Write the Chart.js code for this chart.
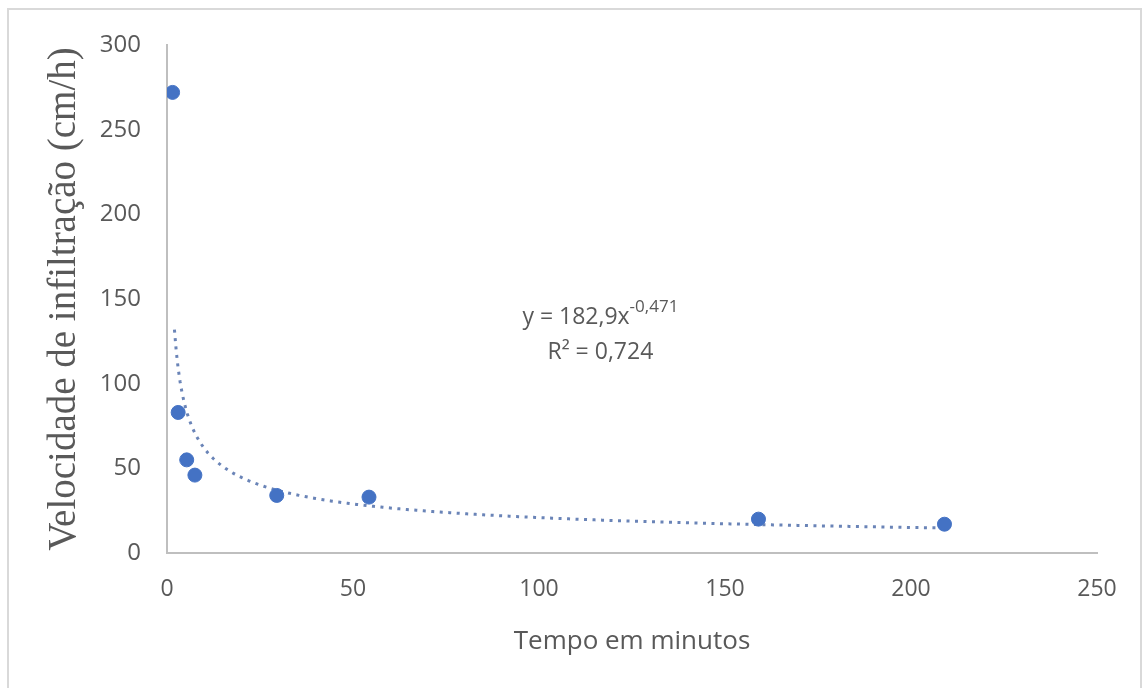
<!DOCTYPE html>
<html>
<head>
<meta charset="utf-8">
<script src="https://cdn.jsdelivr.net/npm/chart.js@4/dist/chart.umd.min.js"></script>
<style>
  html, body { margin: 0; padding: 0; background: #ffffff; overflow: hidden; }
  #wrap { position: relative; width: 1145px; height: 688px; }
  #frame { position: absolute; left: 7px; top: 8px; width: 1135px; height: 700px;
           border: 2px solid #d9d9d9; box-sizing: border-box; pointer-events: none; }
  canvas { position: absolute; left: 0; top: 0; }
</style>
</head>
<body>
<div id="wrap">
  <canvas id="chart" width="1145" height="688"></canvas>
  <div id="frame"></div>
</div>
<script>
// Measured infiltration: elapsed time (min) and infiltration rate (cm/h)
const tempoMin = [1.5, 3, 5.3, 7.5, 29.5, 54.3, 159, 209];
const velocidade = [272, 83, 55, 46, 34, 33, 20, 17];

// Power trendline y = a * x^b, as given by the fitted equation
const trendA = 182.9;
const trendB = -0.471;
const trendR2 = 0.724;
const trendFrom = 2;
const trendTo = 209;

const xTicks = [0, 50, 100, 150, 200, 250];
const yTicks = [0, 50, 100, 150, 200, 250, 300];

const pontos = tempoMin.map((x, i) => ({ x: x, y: velocidade[i] }));

const curva = [];
for (let x = trendFrom; x <= trendTo; x += 0.5) {
  curva.push({ x: x, y: trendA * Math.pow(x, trendB) });
}

const fmt = v => v.toString().replace('.', ',');

const equationLabel = {
  id: 'equationLabel',
  afterDatasetsDraw(chart) {
    const ctx = chart.ctx;
    const xs = chart.scales.x, ys = chart.scales.y;
    const cx = xs.getPixelForValue(116.5);
    const y1 = ys.getPixelForValue(139);
    const y2 = ys.getPixelForValue(118.5);
    ctx.save();
    ctx.fillStyle = '#595959';
    ctx.textBaseline = 'middle';
    const main = 'y = ' + fmt(trendA) + 'x';
    const sup = fmt(trendB);
    ctx.font = '23px "Open Sans"';
    const wMain = ctx.measureText(main).width;
    ctx.font = '17px "Open Sans"';
    const wSup = ctx.measureText(sup).width;
    let left = cx - (wMain + wSup) / 2;
    ctx.textAlign = 'left';
    ctx.font = '23px "Open Sans"';
    ctx.fillText(main, left, y1);
    ctx.font = '17px "Open Sans"';
    ctx.fillText(sup, left + wMain, y1 - 10);
    ctx.font = '23px "Open Sans"';
    ctx.textAlign = 'center';
    ctx.fillText('R² = ' + fmt(trendR2), cx, y2);
    ctx.restore();
  }
};

new Chart(document.getElementById('chart'), {
  type: 'scatter',
  data: {
    datasets: [
      {
        label: 'Velocidade de infiltração',
        data: pontos,
        backgroundColor: '#4472c4',
        borderColor: '#4472c4',
        pointRadius: 7,
        pointHoverRadius: 7,
        order: 1
      },
      {
        label: 'Tendência (potência)',
        data: curva,
        showLine: true,
        borderColor: 'rgba(80,110,170,0.85)',
        borderWidth: 3,
        borderDash: [3, 5.5],
        pointRadius: 0,
        fill: false,
        tension: 0,
        order: 2
      }
    ]
  },
  options: {
    responsive: false,
    animation: false,
    layout: { padding: { left: 0, top: 45, right: 48, bottom: 0 } },
    plugins: {
      legend: { display: false },
      tooltip: { enabled: false }
    },
    scales: {
      x: {
        type: 'linear',
        min: 0, max: 250,
        afterBuildTicks: s => { s.ticks = xTicks.map(v => ({ value: v })); },
        afterFit: s => { s.height = 135; },
        grid: { display: false, drawTicks: false },
        border: { display: true, color: '#bfbfbf', width: 2 },
        ticks: { color: '#595959', font: { family: 'Open Sans', size: 23 }, padding: 23, maxRotation: 0 },
        title: {
          display: true, text: 'Tempo em minutos', color: '#595959',
          font: { family: 'Open Sans', size: 26 }, padding: { top: 0, bottom: 31 }
        }
      },
      y: {
        type: 'linear',
        min: 0, max: 300,
        afterBuildTicks: s => { s.ticks = yTicks.map(v => ({ value: v })); },
        afterFit: s => { s.width = 167; },
        grid: { display: false, drawTicks: false },
        border: { display: true, color: '#bfbfbf', width: 2 },
        ticks: { color: '#595959', font: { family: 'Open Sans', size: 24 }, padding: 26 },
        title: {
          display: true, text: 'Velocidade de infiltração (cm/h)', color: '#595959',
          font: { family: 'Liberation Serif', size: 39 }, padding: { top: 41, bottom: 0 }
        }
      }
    }
  },
  plugins: [equationLabel]
});
</script>
</body>
</html>
